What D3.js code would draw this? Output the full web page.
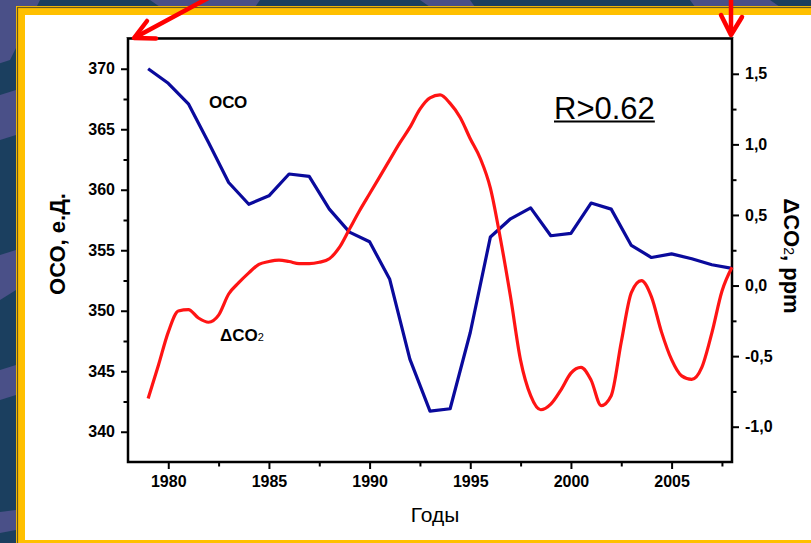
<!DOCTYPE html>
<html>
<head>
<meta charset="utf-8">
<script src="https://cdn.jsdelivr.net/npm/d3@7/dist/d3.min.js"></script>
<style>
  html, body { margin: 0; padding: 0; background: #1b3f5f; }
  svg { display: block; }
  text { font-family: "Liberation Sans", Arial, sans-serif; }
</style>
</head>
<body>
<svg id="chart" width="811" height="543"></svg>
<script>
// ОСО (ozone) series, yearly, left axis
const ocoYears = [1979,1980,1981,1982,1983,1984,1985,1986,1987,1988,1989,1990,1991,1992,1993,1994,1995,1996,1997,1998,1999,2000,2001,2002,2003,2004,2005,2006,2007,2008];
const ocoValues = [370.0,368.8,367.1,363.9,360.6,358.8,359.5,361.3,361.1,358.4,356.5,355.7,352.6,346.0,341.7,341.9,348.2,356.1,357.6,358.5,356.2,356.4,358.9,358.4,355.4,354.4,354.7,354.3,353.8,353.5];

// ΔCO2 series, half-year steps, right axis
const co2Years = [1979,1979.5,1980,1980.5,1981,1981.5,1982,1982.5,1983,1983.5,1984,1984.5,1985,1985.5,1986,1986.5,1987,1987.5,1988,1988.5,1989,1989.5,1990,1990.5,1991,1991.5,1992,1992.5,1993,1993.5,1994,1994.5,1995,1995.5,1996,1996.5,1997,1997.5,1998,1998.5,1999,1999.5,2000,2000.5,2001,2001.5,2002,2002.5,2003,2003.5,2004,2004.5,2005,2005.5,2006,2006.5,2007,2007.5,2008];
const co2Values = [-0.80,-0.57,-0.33,-0.18,-0.17,-0.23,-0.26,-0.21,-0.06,0.02,0.09,0.15,0.17,0.18,0.17,0.155,0.155,0.165,0.19,0.27,0.40,0.53,0.65,0.77,0.89,1.01,1.12,1.25,1.33,1.35,1.29,1.19,1.04,0.90,0.69,0.33,-0.08,-0.53,-0.78,-0.88,-0.84,-0.74,-0.62,-0.58,-0.67,-0.85,-0.78,-0.40,-0.05,0.035,-0.08,-0.33,-0.525,-0.64,-0.665,-0.58,-0.335,-0.04,0.13];

// Axis ticks
const xMajor = [1980,1985,1990,1995,2000,2005];
const xMinor = [1982.5,1987.5,1992.5,1997.5,2002.5,2007.5];
const yLeftMajor = [340,345,350,355,360,365,370];
const yLeftMinor = [342.5,347.5,352.5,357.5,362.5,367.5];
const yRightMajor = [-1.0,-0.5,0.0,0.5,1.0,1.5];
const yRightMinor = [-0.75,-0.25,0.25,0.75,1.25];

const svg = d3.select("#chart");

// ---- slide background: dark stripes, yellow frame, white panel ----
svg.append("rect").attr("x",0).attr("y",0).attr("width",811).attr("height",543).attr("fill","#1b3f5f");
const bands = [
  [[-20,0],[40,0],[10,60],[-20,70]],
  [[150,0],[260,0],[250,14],[170,14]],
  [[420,0],[470,0],[480,14],[440,14]],
  [[690,0],[770,0],[790,14],[700,14]],
  [[0,95],[16,90],[16,135],[0,140]],
  [[0,255],[16,250],[16,290],[0,300]],
  [[0,370],[16,365],[16,395],[0,400]],
  [[0,512],[16,510],[16,530],[0,533]]
];
svg.selectAll("polygon.band").data(bands).join("polygon")
  .attr("class","band")
  .attr("points", d => d.map(p => p.join(",")).join(" "))
  .attr("fill","#4a5088");

svg.append("rect").attr("x",16).attr("y",6).attr("width",820).attr("height",560)
  .attr("fill","#ffc000");
svg.append("rect").attr("x",17.5).attr("y",7.5).attr("width",820).attr("height",560)
  .attr("fill","none").attr("stroke","#6a5a20").attr("stroke-width",1.2);
svg.append("rect").attr("x",25).attr("y",15).attr("width",800).attr("height",525)
  .attr("fill","#ffffff");

// ---- scales ----
const x = d3.scaleLinear().domain([1978, 2008]).range([128, 732]);
const yL = d3.scaleLinear().domain([337.5, 372.5]).range([462, 38.5]);
const yR = d3.scaleLinear().domain([-1.25, 1.75]).range([462, 38.5]);

const fmtR = v => d3.format(".1f")(v).replace(".", ",").replace("−", "-");

function styleAxis(g) {
  g.select(".domain").remove();
  g.selectAll(".tick line").attr("stroke","#000").attr("stroke-width",2);
  g.selectAll(".tick text")
    .attr("fill","#000")
    .style("font-size","16px")
    .style("font-weight","bold");
}

// left axis
const gL = svg.append("g").attr("transform","translate(128,0)");
gL.call(d3.axisLeft(yL).tickValues(yLeftMajor).tickSize(7).tickPadding(6).tickFormat(d3.format("d")));
styleAxis(gL);
const gL2 = svg.append("g").attr("transform","translate(128,0)");
gL2.call(d3.axisLeft(yL).tickValues(yLeftMinor).tickSize(4.5).tickFormat(""));
styleAxis(gL2);

// right axis
const gR = svg.append("g").attr("transform","translate(732,0)");
gR.call(d3.axisRight(yR).tickValues(yRightMajor).tickSize(7).tickPadding(6).tickFormat(fmtR));
styleAxis(gR);
const gR2 = svg.append("g").attr("transform","translate(732,0)");
gR2.call(d3.axisRight(yR).tickValues(yRightMinor).tickSize(4.5).tickFormat(""));
styleAxis(gR2);

// bottom axis
const gB = svg.append("g").attr("transform","translate(0,462)");
gB.call(d3.axisBottom(x).tickValues(xMajor).tickSize(7).tickPadding(7).tickFormat(d3.format("d")));
styleAxis(gB);
const gB2 = svg.append("g").attr("transform","translate(0,462)");
gB2.call(d3.axisBottom(x).tickValues(xMinor).tickSize(4.5).tickFormat(""));
styleAxis(gB2);

// plot frame
svg.append("line").attr("x1",126).attr("x2",734).attr("y1",37.5).attr("y2",37.5)
  .attr("stroke","#bbb").attr("stroke-width",1);
svg.append("rect").attr("x",x(1978)).attr("y",yL(372.5))
  .attr("width",x(2008)-x(1978)).attr("height",yL(337.5)-yL(372.5))
  .attr("fill","none").attr("stroke","#000").attr("stroke-width",2.5);

// ---- data lines ----
const ocoLine = d3.line().x((d,i) => x(ocoYears[i])).y(d => yL(d));
svg.append("path").datum(ocoValues)
  .attr("d", ocoLine)
  .attr("fill","none").attr("stroke","#0a0a9c").attr("stroke-width",3.2)
  .attr("stroke-linejoin","round");

const co2Line = d3.line().x((d,i) => x(co2Years[i])).y(d => yR(d)).curve(d3.curveMonotoneX);
svg.append("path").datum(co2Values)
  .attr("d", co2Line)
  .attr("fill","none").attr("stroke","#ff1414").attr("stroke-width",3.2)
  .attr("stroke-linejoin","round");

// ---- labels ----
svg.append("text").attr("x",209).attr("y",108)
  .style("font-size","17px").style("font-weight","bold").text("ОСО");

const dco = svg.append("text").attr("x",220).attr("y",341)
  .style("font-size","17px").style("font-weight","bold");
dco.append("tspan").text("ΔCO");
dco.append("tspan").style("font-size","11px").style("font-weight","normal").text("2");

const rt = svg.append("text").attr("x",554).attr("y",119)
  .style("font-size","31px").text("R>0.62");
const rw = rt.node().getComputedTextLength();
svg.append("line").attr("x1",554).attr("x2",554+rw).attr("y1",121.5).attr("y2",121.5)
  .attr("stroke","#000").attr("stroke-width",2);

// axis titles
svg.append("text")
  .attr("transform","translate(65,244) rotate(-90)")
  .attr("text-anchor","middle")
  .style("font-size","22px").style("font-weight","bold")
  .text("ОСО, е.Д.");

const rtTitle = svg.append("text")
  .attr("transform","translate(784,256) rotate(90)")
  .attr("text-anchor","middle")
  .style("font-size","22px").style("font-weight","bold");
rtTitle.append("tspan").text("ΔCO");
rtTitle.append("tspan").style("font-size","14px").style("font-weight","normal").text("2");
rtTitle.append("tspan").text(", ppm");

svg.append("text").attr("x",435).attr("y",522).attr("text-anchor","middle")
  .style("font-size","21px").text("Годы");

// ---- red pointer arrows ----
const arrows = svg.append("g").attr("stroke","#ff0000").attr("stroke-width",4.5)
  .attr("fill","none").attr("stroke-linecap","round").attr("stroke-linejoin","round");
arrows.append("line").attr("x1",212).attr("y1",-4).attr("x2",136).attr("y2",37);
arrows.append("polyline").attr("points","147,21 134,38 156,38.5");
arrows.append("line").attr("x1",731).attr("y1",-4).attr("x2",731).attr("y2",34);
arrows.append("polyline").attr("points","721,15 731,35 742,17");
</script>
</body>
</html>
